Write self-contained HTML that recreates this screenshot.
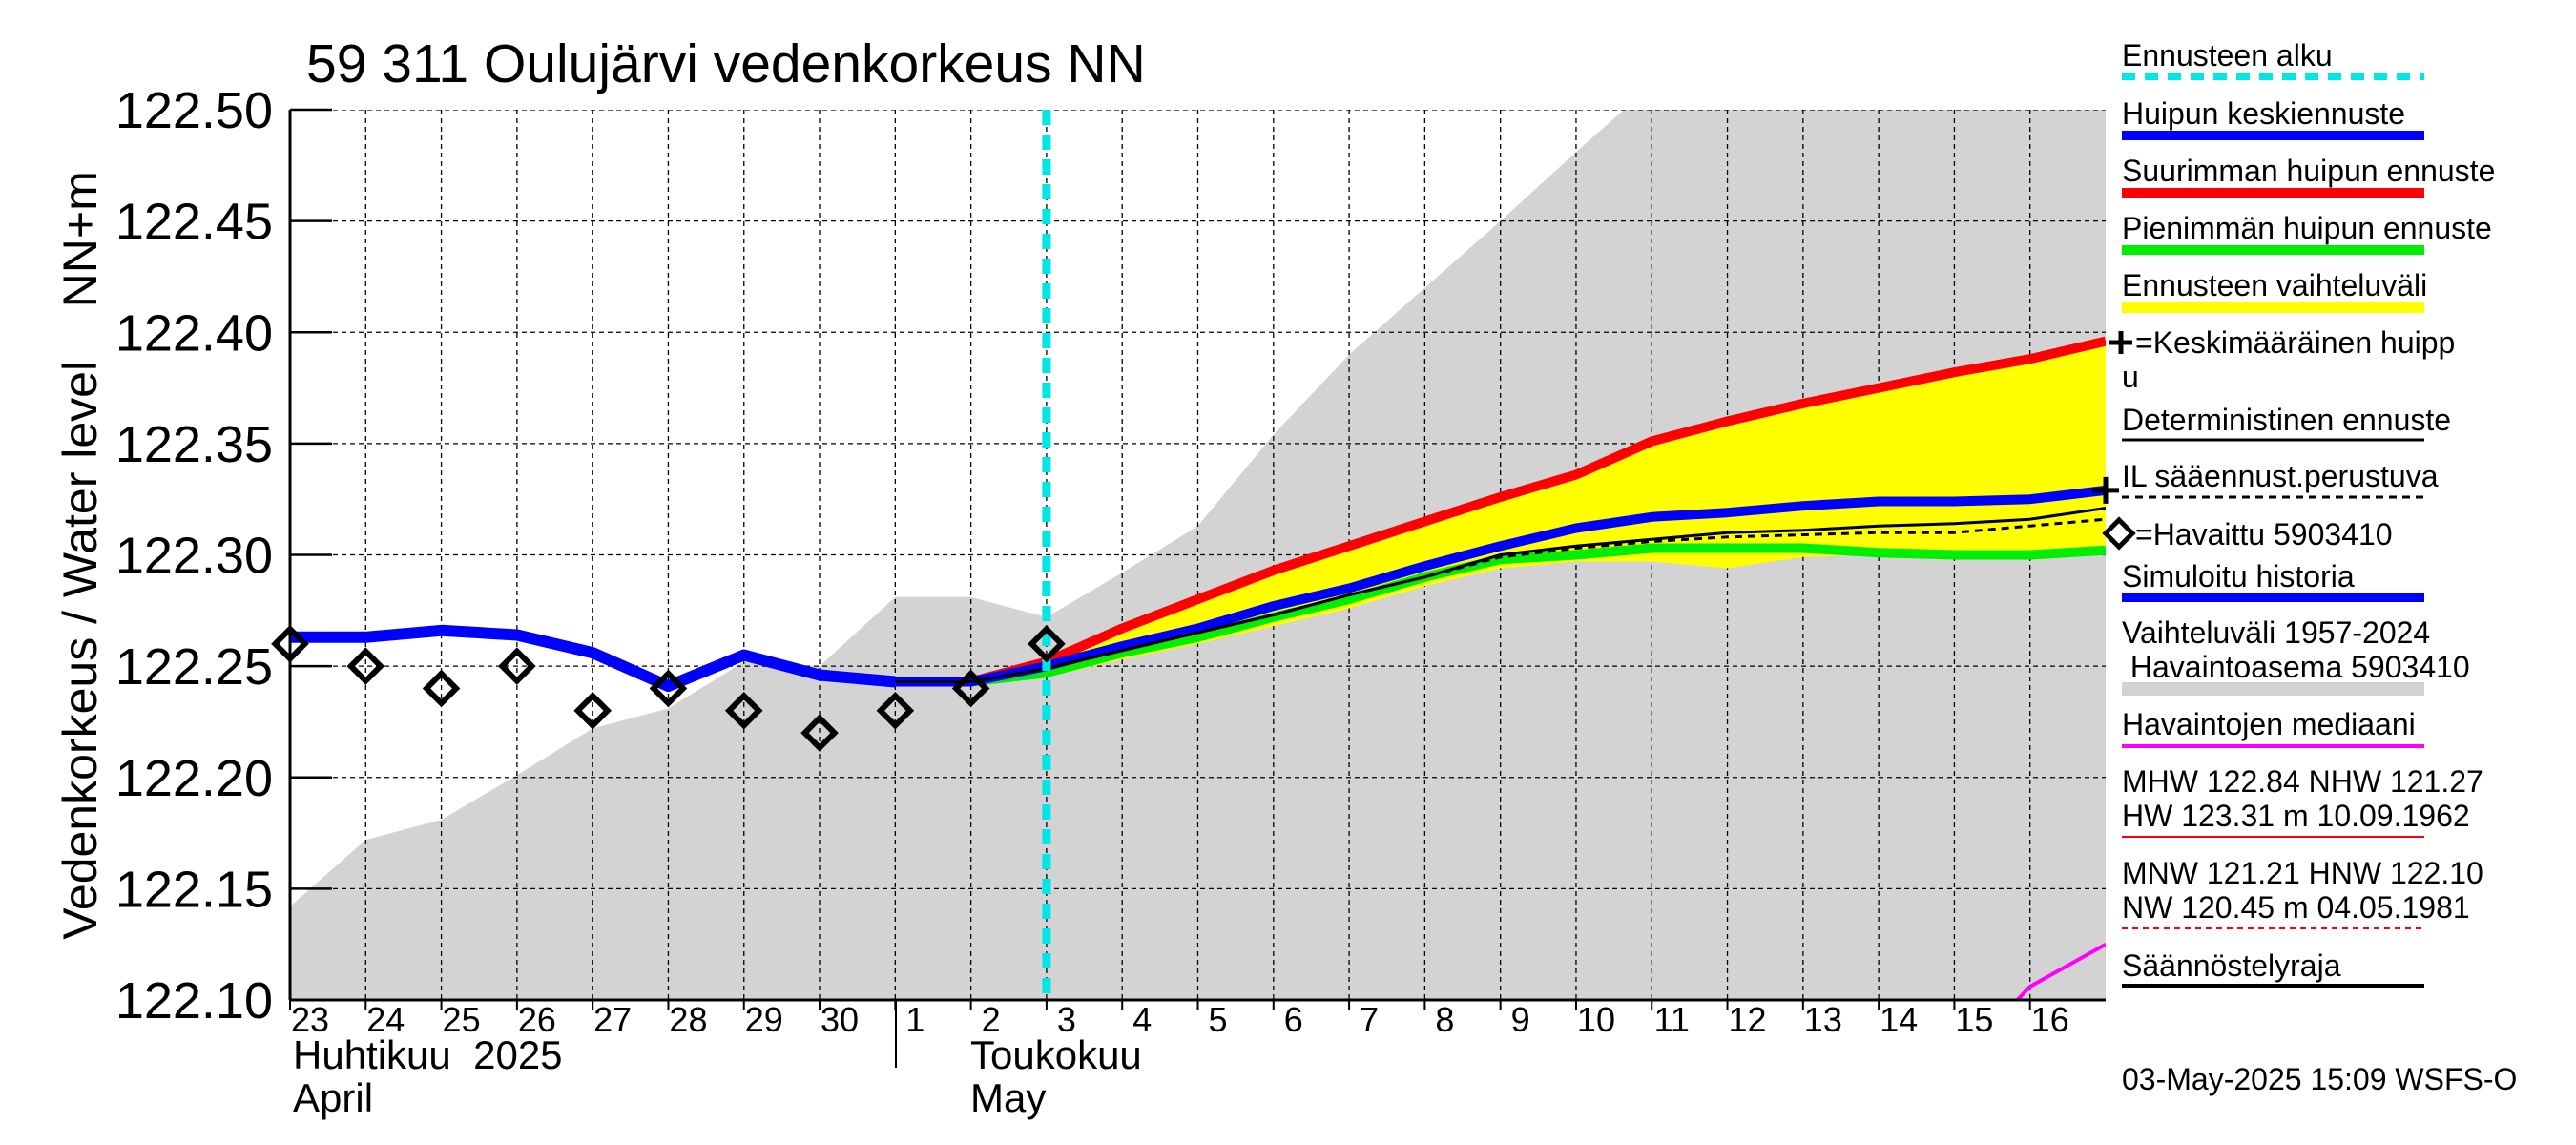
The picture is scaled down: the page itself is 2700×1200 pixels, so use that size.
<!DOCTYPE html>
<html><head><meta charset="utf-8">
<style>
html,body{margin:0;padding:0;background:#fff;}
svg{display:block;font-family:"Liberation Sans",sans-serif;}
</style></head>
<body>
<svg id="chart" width="2700" height="1200" viewBox="0 0 2700 1200" xmlns="http://www.w3.org/2000/svg">
<defs><clipPath id="plotclip"><rect x="304" y="115" width="1903" height="933"/></clipPath></defs>
<g id="plot" clip-path="url(#plotclip)"></g>
<g id="axes"></g>
<text x="321" y="86" font-size="57">59 311 Oulujärvi vedenkorkeus NN</text>
<text transform="translate(101,582) rotate(-90)" text-anchor="middle" font-size="50" xml:space="preserve">Vedenkorkeus / Water level    NN+m</text>
<g font-size="42">
<text x="307" y="1120" xml:space="preserve">Huhtikuu  2025</text>
<text x="307" y="1165">April</text>
<text x="1017" y="1120">Toukokuu</text>
<text x="1017" y="1165">May</text>
</g>
<line x1="939" y1="1048" x2="939" y2="1119" stroke="#000" stroke-width="2"/>
<g id="legend" font-size="32">
<text x="2224" y="69">Ennusteen alku</text>
<line x1="2224" y1="80" x2="2541" y2="80" stroke="#00e5e5" stroke-width="8" stroke-dasharray="14,10"/>
<text x="2224" y="130">Huipun keskiennuste</text>
<line x1="2224" y1="142" x2="2541" y2="142" stroke="#0000ff" stroke-width="10"/>
<text x="2224" y="190">Suurimman huipun ennuste</text>
<line x1="2224" y1="202" x2="2541" y2="202" stroke="#ff0000" stroke-width="10"/>
<text x="2224" y="250">Pienimmän huipun ennuste</text>
<line x1="2224" y1="262" x2="2541" y2="262" stroke="#00ee00" stroke-width="10"/>
<text x="2224" y="310">Ennusteen vaihteluväli</text>
<line x1="2224" y1="322" x2="2541" y2="322" stroke="#ffff00" stroke-width="12"/>
<path d="M2211,359 H2235 M2223,347 V371" stroke="#000" stroke-width="5"/>
<text x="2238" y="370">=Keskimääräinen huipp</text>
<text x="2224" y="406">u</text>
<text x="2224" y="451">Deterministinen ennuste</text>
<line x1="2224" y1="461" x2="2541" y2="461" stroke="#000" stroke-width="3"/>
<text x="2224" y="510">IL sääennust.perustuva</text>
<line x1="2224" y1="521" x2="2541" y2="521" stroke="#000" stroke-width="3" stroke-dasharray="8,6"/>
<rect x="2211" y="549" width="20" height="20" fill="none" stroke="#000" stroke-width="5" transform="rotate(45 2221 559)"/>
<text x="2238" y="571">=Havaittu 5903410</text>
<text x="2224" y="615">Simuloitu historia</text>
<line x1="2224" y1="626" x2="2541" y2="626" stroke="#0000ff" stroke-width="10"/>
<text x="2224" y="674">Vaihteluväli 1957-2024</text>
<text x="2224" y="710" xml:space="preserve"> Havaintoasema 5903410</text>
<line x1="2224" y1="722" x2="2541" y2="722" stroke="#d3d3d3" stroke-width="14"/>
<text x="2224" y="770">Havaintojen mediaani</text>
<line x1="2224" y1="782" x2="2541" y2="782" stroke="#ff00ff" stroke-width="4"/>
<text x="2224" y="830">MHW 122.84 NHW 121.27</text>
<text x="2224" y="866">HW 123.31 m 10.09.1962</text>
<line x1="2224" y1="877" x2="2541" y2="877" stroke="#ff0000" stroke-width="2"/>
<text x="2224" y="926">MNW 121.21 HNW 122.10</text>
<text x="2224" y="962">NW 120.45 m 04.05.1981</text>
<line x1="2224" y1="973" x2="2541" y2="973" stroke="#ff0000" stroke-width="2" stroke-dasharray="6,5"/>
<text x="2224" y="1023">Säännöstelyraja</text>
<line x1="2224" y1="1033" x2="2541" y2="1033" stroke="#000" stroke-width="4"/>
</g>
<text x="2224" y="1142" font-size="32">03-May-2025 15:09 WSFS-O</text>
</svg>
<script>
const dayLabels=["23","24","25","26","27","28","29","30","1","2","3","4","5","6","7","8","9","10","11","12","13","14","15","16"];
const yTicks=[122.10,122.15,122.20,122.25,122.30,122.35,122.40,122.45,122.50];
const histUpper=[122.142,122.172,122.181,122.201,122.222,122.231,122.252,122.250,122.281,122.281,122.272,122.292,122.313,122.354,122.390,122.420,122.450,122.481,122.511,122.540,122.570,122.600,122.630,122.660,122.690];
const simHistory=[122.263,122.263,122.266,122.264,122.256,122.241,122.255,122.246,122.243];
const observed=[122.26,122.25,122.24,122.25,122.23,122.24,122.23,122.22,122.23,122.24,122.26];
const fcStart=8;
const fcMax=[122.243,122.243,122.252,122.267,122.280,122.293,122.304,122.315,122.326,122.336,122.351,122.360,122.368,122.375,122.382,122.388,122.396];
const fcMean=[122.243,122.243,122.250,122.259,122.267,122.277,122.285,122.295,122.304,122.312,122.317,122.319,122.322,122.324,122.324,122.325,122.329];
const fcMin=[122.243,122.243,122.247,122.256,122.263,122.272,122.280,122.290,122.298,122.300,122.303,122.303,122.303,122.301,122.300,122.300,122.302];
const fcLow=[122.243,122.243,122.245,122.253,122.260,122.268,122.276,122.286,122.294,122.297,122.297,122.294,122.299,122.300,122.300,122.300,122.301];
const fcDet=[122.243,122.243,122.249,122.257,122.265,122.273,122.282,122.290,122.300,122.304,122.307,122.310,122.311,122.313,122.314,122.316,122.321];
const fcIL=[122.243,122.243,122.249,122.257,122.265,122.273,122.282,122.290,122.299,122.303,122.306,122.308,122.309,122.310,122.310,122.313,122.316];
const medianX=[22.75,23,24];
const medianV=[122.097,122.106,122.125];
const forecastStartDay=10;

const NS="http://www.w3.org/2000/svg";
const X0=304,X1=2207,Y0=1048,Y1=115,YMIN=122.1,YMAX=122.5,NDAYS=24;
const xs=i=>X0+(X1-X0)*i/NDAYS;
const ys=v=>Y0-(Y0-Y1)*(v-YMIN)/(YMAX-YMIN);
const plot=document.getElementById('plot'),axes=document.getElementById('axes');
function mk(tag,attrs,parent){const e=document.createElementNS(NS,tag);for(const k in attrs)e.setAttribute(k,attrs[k]);parent.appendChild(e);return e;}
function pts(arr,off){return arr.map((v,i)=>xs(i+off).toFixed(1)+','+ys(v).toFixed(1)).join(' ');}

let d='M'+xs(0)+','+Y0+' L'+pts(histUpper,0).split(' ').join(' L')+' L'+xs(histUpper.length-1)+','+Y0+' Z';
let band=mk('path',{d:d,fill:'#d3d3d3'},plot);


for(let i=1;i<NDAYS;i++){let g=mk('line',{x1:xs(i),x2:xs(i),y1:Y1,y2:Y0,stroke:'#000','stroke-width':1.3,'stroke-dasharray':'5,4'},plot);

}
yTicks.forEach(v=>{let g=mk('line',{x1:X0,x2:X1,y1:ys(v),y2:ys(v),stroke:'#000','stroke-width':1.3,'stroke-dasharray':'5,4'},plot);

});
const up=fcMax.map((v,i)=>[xs(i+fcStart),ys(v)]);
const lo=fcLow.map((v,i)=>[xs(i+fcStart),ys(v)]).reverse();
let yb=mk('path',{d:'M'+up.concat(lo).map(p=>p[0].toFixed(1)+','+p[1].toFixed(1)).join(' L')+' Z',fill:'#ffff00'},plot);


let md=mk('polyline',{points:medianX.map((x,i)=>xs(x)+','+ys(medianV[i])).join(' '),fill:'none',stroke:'#ff00ff','stroke-width':4},plot);


function line(arr,off,color,w,name,dash){let e=mk('polyline',{points:pts(arr,off),fill:'none',stroke:color,'stroke-width':w,'stroke-linejoin':'round'},plot);if(dash)e.setAttribute('stroke-dasharray',dash);

return e;}
line(fcMax,fcStart,'#ff0000',10,'max-peak-forecast');
line(fcMin,fcStart,'#00ee00',10,'min-peak-forecast');
line(fcMean,fcStart,'#0000ff',10,'mean-peak-forecast');
line(fcIL,fcStart,'#000',3,'il-forecast-line','8,6');
line(fcDet,fcStart,'#000',3,'deterministic-forecast');
line(simHistory,0,'#0000ff',12,'simulated-history');
let cy=mk('line',{x1:xs(forecastStartDay),x2:xs(forecastStartDay),y1:Y1,y2:Y0,stroke:'#00e5e5','stroke-width':9,'stroke-dasharray':'16,10'},plot);


observed.forEach((v,i)=>{const cx=xs(i),c=ys(v);let r=mk('rect',{x:cx-11,y:c-11,width:22,height:22,fill:'none',stroke:'#000','stroke-width':6,transform:'rotate(45 '+cx+' '+c+')'},axes);

});
{const px=xs(fcStart+fcMean.length-1),py=ys(fcMean[fcMean.length-1]);
let p=mk('path',{d:`M${px-14},${py} H${px+14} M${px},${py-14} V${py+14}`,stroke:'#000','stroke-width':5},axes);

}
mk('line',{x1:X0,x2:X0,y1:Y1,y2:Y0,stroke:'#000','stroke-width':3},axes);
mk('line',{x1:X0,x2:X1,y1:Y0,y2:Y0,stroke:'#000','stroke-width':3},axes);
yTicks.forEach(v=>{mk('line',{x1:X0,x2:X0+44,y1:ys(v),y2:ys(v),stroke:'#000','stroke-width':2.5},axes);
let t=mk('text',{x:286,y:ys(v)+19,'text-anchor':'end','font-size':54},axes);t.textContent=v.toFixed(2);

});
dayLabels.forEach((s,i)=>{mk('line',{x1:xs(i),x2:xs(i),y1:Y0,y2:Y0+10,stroke:'#000','stroke-width':2},axes);
let t=mk('text',{x:xs(i)+21,y:1081,'text-anchor':'middle','font-size':36},axes);t.textContent=s;

});
</script>
</body></html>
